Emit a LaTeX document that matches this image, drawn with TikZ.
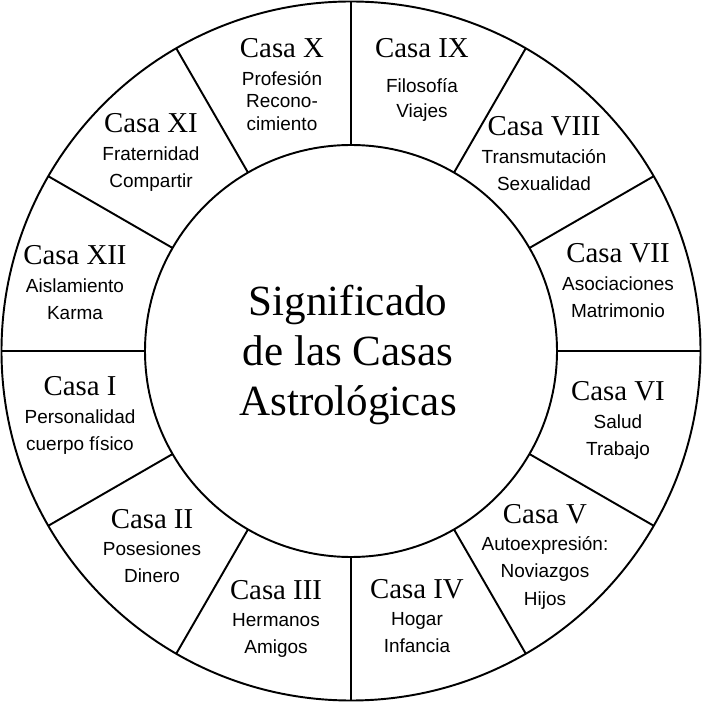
\documentclass[tikz,border=0pt]{standalone}
\usepackage{fontspec}
\setmainfont{Liberation Serif}
\newfontfamily\descfont{Liberation Sans}
\newcommand{\titlefont}{\rmfamily\fontsize{16.4}{18}\selectfont}
\newcommand{\casalines}[3][0pt]{\begin{tabular}[t]{@{}c@{}}{\titlefont #2}\\[#1]#3\end{tabular}}

\begin{document}
\begin{tikzpicture}[x=0.02cm, y=0.02cm, line width=1.1pt]

    \tikzset{casa/.style={%
      anchor=base,%
      inner sep=0pt,%
      font=\descfont\fontsize{10.8}{15.6}\selectfont}%
    };

    \tikzset{centro/.style={casa, font=\rmfamily\fontsize{24.5}{28.4}\selectfont}};

    \useasboundingbox (-351, -351) rectangle (351, 351);

    %%%%%%%%%%%
    % circles %
    %%%%%%%%%%%
    \draw (0, 0) circle [radius=349.5];
    \draw (0, 0) circle [radius=206];

    \draw (0:206) -- (0:349.5);
    \draw (30:206) -- (30:349.5);
    \draw (60:206) -- (60:349.5);
    \draw (90:206) -- (90:349.5);
    \draw (120:206) -- (120:349.5);
    \draw (150:206) -- (150:349.5);
    \draw (180:206) -- (180:349.5);
    \draw (210:206) -- (210:349.5);
    \draw (240:206) -- (240:349.5);
    \draw (270:206) -- (270:349.5);
    \draw (300:206) -- (300:349.5);
    \draw (330:206) -- (330:349.5);

    %%%%%%%%%%
    % houses %
    %%%%%%%%%%
    \path (-3, 35) node [centro] (titulo)
      {\begin{tabular}[t]{@{}c@{}}Significado\\de las Casas\\Astrológicas\end{tabular}};

    \path (-271, -45) node [casa] (casaI) {\casalines{Casa I}{Personalidad\\cuerpo físico}};

    \path (-199, -177) node [casa] (casaII) {\casalines{Casa II}{Posesiones\\Dinero}};

    \path (-75, -248) node [casa] (casaIII) {\casalines{Casa III}{Hermanos\\Amigos}};

    \path (66, -247) node [casa] (casaIV) {\casalines{Casa IV}{Hogar\\Infancia}};

    \path (194, -172) node [casa] (casaV) {\casalines{Casa V}{Autoexpresión:\\Noviazgos\\Hijos}};

    \path (267, -50) node [casa] (casaVI) {\casalines{Casa VI}{Salud\\Trabajo}};

    \path (267, 88) node [casa] (casaVII) {\casalines{Casa VII}{Asociaciones\\Matrimonio}};

    \path (193, 215) node [casa] (casaVIII) {\casalines{Casa VIII}{Transmutación\\Sexualidad}};

    \path (71, 293) node [casa] (casaIX) {\casalines[4pt]{Casa IX}{Filosofía\\[-1.4pt]Viajes}};

    \path (-69, 293) node [casa] (casaX) {\casalines{Casa X}{Profesión\\[-3pt]Recono-\\[-2.5pt]cimiento}};

    \path (-200, 218) node [casa] (casaXI) {\casalines{Casa XI}{Fraternidad\\Compartir}};

    \path (-276, 86) node [casa] (casaXII) {\casalines{Casa XII}{Aislamiento\\Karma}};

  \end{tikzpicture}
\end{document}
